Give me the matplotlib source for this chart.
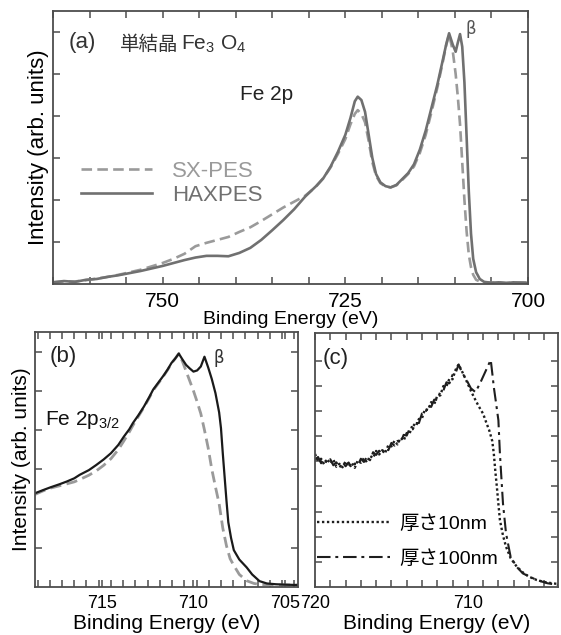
import numpy as np
import matplotlib
matplotlib.use('Agg')
import matplotlib.pyplot as plt

plt.rcParams['font.family'] = ['Liberation Sans', 'Noto Sans CJK JP', 'DejaVu Sans']
plt.rcParams['mathtext.fontset'] = 'custom'
plt.rcParams['mathtext.rm'] = 'Liberation Sans'
plt.rcParams['mathtext.it'] = 'Liberation Sans:italic'

# ---- panel (a): Fe 2p, single crystal Fe3O4 ----
a_energy = [765, 763.5, 762, 760.5, 759, 757.5, 756, 754.5, 753, 751.5, 750, 748.5, 747, 745.5,
            744, 742.5, 741, 739.5, 738, 736.5, 735, 733.5, 732, 730.5, 729, 728, 727, 726, 725,
            724.3, 723.7, 723.3, 722.8, 722.3, 721.8, 721.3, 720.8, 720.2, 719.5, 718.8, 718,
            717.2, 716.4, 715.6, 714.8, 714, 713.2, 712.4, 711.7, 711.2, 710.8, 710.3, 709.9,
            709.6, 709.3, 709.0, 708.7, 708.4, 708.1, 707.8, 707.5, 707.1, 706.6, 706, 705, 704,
            703, 702, 701, 700]
a_haxpes = [0.04, 0.07, 0.05, 0.10, 0.12, 0.17, 0.21, 0.26, 0.31, 0.37, 0.43, 0.50, 0.57, 0.63,
            0.67, 0.67, 0.66, 0.74, 0.86, 1.05, 1.28, 1.52, 1.78, 2.08, 2.33, 2.52, 2.80, 3.15, 3.55,
            3.95, 4.35, 4.46, 4.38, 4.10, 3.55, 3.00, 2.62, 2.42, 2.33, 2.30, 2.36,
            2.50, 2.64, 2.85, 3.20, 3.65, 4.20, 4.75, 5.30, 5.70, 5.97, 5.70, 5.53,
            5.75, 5.95, 5.65, 4.80, 3.50, 2.20, 1.20, 0.60, 0.28, 0.12, 0.05, 0.03, 0.04,
            0.02, 0.04, 0.03, 0.03]
a_sxpes = [0.04, 0.06, 0.06, 0.09, 0.13, 0.17, 0.22, 0.28, 0.34, 0.42, 0.50, 0.60, 0.72, 0.90,
           0.98, 1.05, 1.12, 1.24, 1.35, 1.50, 1.66, 1.82, 1.96, 2.10, 2.32, 2.52, 2.78, 3.10, 3.45,
           3.80, 4.05, 4.14, 4.05, 3.85, 3.40, 2.90, 2.58, 2.40, 2.32, 2.30, 2.35,
           2.48, 2.62, 2.80, 3.12, 3.55, 4.10, 4.68, 5.25, 5.68, 5.95, 5.55, 5.00,
           4.45, 3.80, 2.90, 2.00, 1.25, 0.70, 0.40, 0.22, 0.10, 0.06, 0.04, 0.03, 0.04,
           0.03, 0.03, 0.04, 0.03]

# ---- panel (b): Fe 2p3/2 ----
b_energy_hax = [718.64, 718.2, 717.8, 717.3, 716.9, 716.5, 716.2, 715.7, 715.3, 714.9, 714.5,
                714.1, 713.8, 713.5, 713.3, 713.0, 712.7, 712.4, 712.2, 711.9, 711.6, 711.4,
                711.2, 711.0, 710.8, 710.6, 710.4, 710.2, 710.0, 709.8, 709.6, 709.4, 709.2,
                709.0, 708.8, 708.6, 708.5, 708.4, 708.3, 708.2, 708.1, 707.95, 707.8, 707.5,
                707.1, 706.8, 706.4, 706.0, 705.5, 705.0, 704.3]
b_haxpes = [2.39, 2.47, 2.54, 2.62, 2.69, 2.77, 2.86, 2.98, 3.11, 3.25, 3.41,
            3.62, 3.83, 4.02, 4.18, 4.38, 4.60, 4.85, 5.03, 5.22, 5.41, 5.55,
            5.71, 5.82, 5.95, 5.80, 5.66, 5.57, 5.49, 5.52, 5.62, 5.87, 5.60,
            5.30, 4.94, 4.45, 4.05, 3.40, 2.80, 2.20, 1.65, 1.25, 0.94, 0.70,
            0.50, 0.32, 0.15, 0.09, 0.07, 0.06, 0.05]
b_energy_sx = [718.64, 718.2, 717.8, 717.3, 716.9, 716.5, 716.2, 715.7, 715.3, 714.9, 714.5,
               714.1, 713.8, 713.5, 713.3, 713.0, 712.7, 712.4, 712.2, 711.9, 711.6, 711.4,
               711.2, 711.0, 710.8, 710.6, 710.4, 710.2, 710.0, 709.8, 709.6, 709.4, 709.2,
               709.0, 708.8, 708.6, 708.4, 708.2, 708.0, 707.8, 707.5, 707.1, 706.7, 706.3,
               705.5, 704.3]
b_sxpes = [2.36, 2.45, 2.52, 2.58, 2.63, 2.68, 2.74, 2.85, 2.96, 3.10, 3.27,
           3.50, 3.72, 3.95, 4.12, 4.35, 4.58, 4.83, 5.01, 5.20, 5.40, 5.54,
           5.70, 5.82, 5.95, 5.75, 5.50, 5.25, 5.00, 4.72, 4.42, 4.00, 3.55,
           3.00, 2.55, 2.12, 1.50, 1.05, 0.72, 0.55, 0.32, 0.16, 0.09, 0.06,
           0.05, 0.05]

# ---- panel (c): thickness dependence ----
c_energy_low = [720, 719.8, 719.6, 719.4, 719.2, 719.0, 718.8, 718.6, 718.4, 718.2, 718.0,
                717.8, 717.6, 717.4, 717.2, 717.0, 716.8, 716.6, 716.4, 716.2, 716.0, 715.8,
                715.6, 715.4, 715.2, 715.0, 714.8, 714.6, 714.4, 714.2, 714.0, 713.8, 713.6,
                713.4, 713.2, 713.0, 712.8, 712.6, 712.4, 712.2, 712.0, 711.8, 711.6, 711.4,
                711.2, 711.0, 710.8, 710.6]
c_10nm_low = [5.29, 5.02, 5.10, 4.87, 5.08, 4.91, 5.07, 4.78, 4.90, 4.76, 5.00,
              4.79, 4.94, 4.74, 5.03, 4.94, 5.12, 4.96, 5.21, 5.13, 5.41, 5.27,
              5.44, 5.35, 5.64, 5.59, 5.81, 5.67, 5.93, 5.82, 6.12, 6.12, 6.48,
              6.39, 6.68, 6.71, 7.07, 7.04, 7.35, 7.27, 7.60, 7.62, 7.99, 7.98,
              8.29, 8.26, 8.64, 8.85]
c_100nm_low = [5.07, 5.17, 4.92, 5.11, 4.94, 5.08, 4.84, 4.96, 4.74, 4.97, 4.80,
               4.95, 4.74, 4.91, 4.84, 5.10, 4.97, 5.18, 5.04, 5.36, 5.25, 5.42,
               5.27, 5.52, 5.44, 5.73, 5.62, 5.81, 5.74, 6.05, 6.02, 6.31, 6.27,
               6.52, 6.52, 6.90, 6.89, 7.23, 7.16, 7.45, 7.44, 7.77, 7.81, 8.14,
               8.10, 8.44, 8.51, 8.85]
c_energy_10 = [710.4, 710.1, 709.8, 709.6, 709.3, 709.0, 708.8, 708.6, 708.4, 708.3, 708.2,
               708.1, 708.0, 707.9, 707.7, 707.5, 707.2, 706.8, 706.4, 706.0, 705.5, 705.0,
               704.5, 704.1]
c_10nm = [8.60, 8.21, 7.80, 7.55, 7.20, 6.89, 6.55, 6.23, 5.80, 5.30, 4.60,
          3.98, 3.30, 2.66, 2.05, 1.60, 1.15, 0.81, 0.58, 0.41, 0.28, 0.20,
          0.15, 0.12]
c_energy_100 = [710.4, 710.1, 709.8, 709.5, 709.2, 708.9, 708.6, 708.5, 708.4, 708.3, 708.15,
                708.0, 707.9, 707.8, 707.7, 707.5, 707.2, 706.8, 706.4, 705.5, 704.8, 704.1]
c_100nm = [8.55, 8.25, 7.90, 7.75, 8.10, 8.50, 8.90, 9.03, 8.50, 7.95, 7.30,
           6.63, 5.30, 4.30, 3.32, 2.13, 1.20, 0.80, 0.54, 0.28, 0.15, 0.08]

spine_col = '#4d4d4d'


def style_axes(ax, tick_size):
    for s in ax.spines.values():
        s.set_color(spine_col)
        s.set_linewidth(1.3)
    ax.tick_params(which='both', direction='in', top=True, right=True, length=5,
                   width=1.1, color=spine_col, labelsize=tick_size, pad=6,
                   labelleft=False)


fig = plt.figure(figsize=(5.61, 6.35), dpi=100)
W, H = 561, 635

# panel (a)
ax_a = fig.add_axes([53 / W, 1 - 284 / H, 475 / W, 273 / H])
ax_a.plot(a_energy, a_sxpes, color='#9a9a9a', lw=1.9, ls=(0, (4, 2)), label='SX-PES')
ax_a.plot(a_energy, a_haxpes, color='#707070', lw=1.9, label='HAXPES')
ax_a.set_xlim(765, 700)
ax_a.set_ylim(0, 6.5)
ax_a.set_xticks([750, 725, 700])
ax_a.set_xticks(np.arange(700, 766, 5), minor=True)
ax_a.set_yticks(np.arange(1, 7))
style_axes(ax_a, 15)
ax_a.set_xlabel('Binding Energy (eV)', fontsize=14, labelpad=0)
ax_a.set_ylabel('Intensity (arb. units)', fontsize=16, labelpad=3)
leg = ax_a.legend(loc='upper left', bbox_to_anchor=(0.058, 0.452), frameon=False,
                  fontsize=16, handlelength=3.2, handletextpad=0.9, labelspacing=0.15,
                  borderpad=0, borderaxespad=0)
leg.get_texts()[0].set_color('#9a9a9a')
leg.get_texts()[1].set_color('#707070')
ax_a.text(0.032, 0.883, '(a)', transform=ax_a.transAxes, fontsize=16, va='center', color='#333')
ax_a.text(0.141, 0.879, '単結晶', transform=ax_a.transAxes, fontsize=14, va='center',
          color='#333', family=['Noto Sans CJK JP'])
ax_a.text(0.269, 0.857, r'Fe$_3$ O$_4$', transform=ax_a.transAxes, fontsize=15,
          va='baseline', color='#333')
ax_a.text(0.394, 0.674, 'Fe 2p', transform=ax_a.transAxes, fontsize=15, va='baseline',
          color='#222')
ax_a.text(0.869, 0.934, 'β', transform=ax_a.transAxes, fontsize=12, va='center',
          color='#555', family=['DejaVu Sans'])

# panel (b)
ax_b = fig.add_axes([35 / W, 1 - 587 / H, 263 / W, 255 / H])
ax_b.plot(b_energy_sx, b_sxpes, color='#9a9a9a', lw=2.0, ls=(0, (4, 2)))
ax_b.plot(b_energy_hax, b_haxpes, color='#1a1a1a', lw=1.6)
ax_b.set_xlim(718.64, 704.3)
ax_b.set_ylim(0, 6.5)
ax_b.set_xticks([715, 710, 705])
ax_b.set_xticks(np.arange(704.5, 719, 2 / 3), minor=True)
ax_b.set_yticks(np.arange(1, 7))
style_axes(ax_b, 13)
ax_b.set_xlabel('Binding Energy (eV)', fontsize=15, labelpad=1)
ax_b.set_ylabel('Intensity (arb. units)', fontsize=15, labelpad=3)
ax_b.text(0.057, 0.902, '(b)', transform=ax_b.transAxes, fontsize=16, va='center', color='#222')
ax_b.text(0.677, 0.898, 'β', transform=ax_b.transAxes, fontsize=12, va='center',
          color='#333', family=['DejaVu Sans'])
ax_b.text(0.038, 0.635, r'Fe 2p$_{3/2}$', transform=ax_b.transAxes, fontsize=15,
          va='baseline', color='#111')

# panel (c)
ax_c = fig.add_axes([315 / W, 1 - 587 / H, 243 / W, 254 / H])
ax_c.plot(c_energy_low + c_energy_10, c_10nm_low + c_10nm, color='#1e1e1e', lw=1.7,
          ls=(0, (1, 1.1)), label='厚さ10nm')
ax_c.plot(c_energy_low + c_energy_100, c_100nm_low + c_100nm, color='#1e1e1e', lw=1.5,
          ls=(0, (6.5, 2.3, 1.4, 2.3)), label='厚さ100nm')
ax_c.set_xlim(720, 704.1)
ax_c.set_ylim(0, 10.1)
ax_c.set_xticks([720, 710])
ax_c.set_xticks(np.arange(705, 721, 1), minor=True)
ax_c.set_yticks(np.arange(1, 10))
style_axes(ax_c, 13)
ax_c.set_xlabel('Binding Energy (eV)', fontsize=15, labelpad=1)
ax_c.legend(loc='lower left', bbox_to_anchor=(0.008, 0.075), frameon=False, fontsize=14,
            handlelength=3.75, handletextpad=0.5, labelspacing=0.9, borderpad=0,
            borderaxespad=0)
ax_c.text(0.033, 0.90, '(c)', transform=ax_c.transAxes, fontsize=16, va='center', color='#222')

fig.savefig('out.png', dpi=100)
